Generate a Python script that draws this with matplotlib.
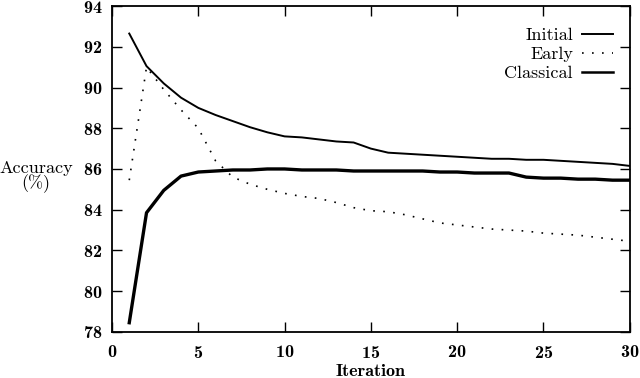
import matplotlib.pyplot as plt

iteration = list(range(1, 31))
initial = [92.65, 91.05, 90.2, 89.5, 89.0, 88.65, 88.35, 88.05, 87.8, 87.6,
           87.55, 87.45, 87.35, 87.3, 87.0, 86.8, 86.75, 86.7, 86.65, 86.6,
           86.55, 86.5, 86.5, 86.45, 86.45, 86.4, 86.35, 86.3, 86.25, 86.15]
early = [85.45, 91.0, 89.9, 88.9, 88.0, 86.4, 85.6, 85.25, 85.0, 84.8,
         84.65, 84.55, 84.35, 84.1, 83.95, 83.9, 83.75, 83.55, 83.35, 83.25,
         83.15, 83.05, 83.0, 82.95, 82.85, 82.8, 82.75, 82.65, 82.55, 82.45]
classical = [78.45, 83.85, 84.95, 85.65, 85.85, 85.9, 85.95, 85.95, 86.0, 86.0,
             85.95, 85.95, 85.95, 85.9, 85.9, 85.9, 85.9, 85.9, 85.85, 85.85,
             85.8, 85.8, 85.8, 85.6, 85.55, 85.55, 85.5, 85.5, 85.45, 85.45]

plt.rcParams['font.family'] = 'cmr10'
plt.rcParams['axes.formatter.use_mathtext'] = True

fig = plt.figure(figsize=(6.4, 3.78), dpi=100)
ax = fig.add_axes([0.175, 0.122, 0.809, 0.862])

ax.plot(iteration, initial, color='black', lw=1.4, label='Initial')
ax.plot(iteration, early, color='black', lw=1.2, linestyle=(0, (1, 5)), label='Early')
ax.plot(iteration, classical, color='black', lw=2.4, label='Classical')

ax.set_xlim(0, 30)
ax.set_ylim(78, 94)
ax.set_xticks(range(0, 31, 5))
ax.set_yticks(range(78, 95, 2))
ax.tick_params(direction='in', top=True, right=True, length=7, width=1, labelsize=13)
ax.tick_params(axis='x', pad=9)
ax.tick_params(axis='y', pad=7)
for lab in ax.get_xticklabels() + ax.get_yticklabels():
    lab.set_fontfamily('cmb10')
for s in ax.spines.values():
    s.set_linewidth(1.3)

ax.set_xlabel('Iteration', family='cmb10', fontsize=13, labelpad=2)
ax.set_ylabel('Accuracy\n(%)', rotation=0, fontsize=13, linespacing=0.85,
              ha='center', va='center')
ax.yaxis.set_label_coords(-0.147, 0.475)

leg = ax.legend(loc='upper right', bbox_to_anchor=(0.967, 0.935), frameon=False,
                markerfirst=False, fontsize=13, handlelength=1.7, handletextpad=0.5,
                labelspacing=0.2, borderaxespad=0, borderpad=0)
for t in leg.get_texts():
    t.set_ha('right')
leg.get_lines()[2].set_linewidth(1.8)

fig.savefig('out.png', dpi=100)
